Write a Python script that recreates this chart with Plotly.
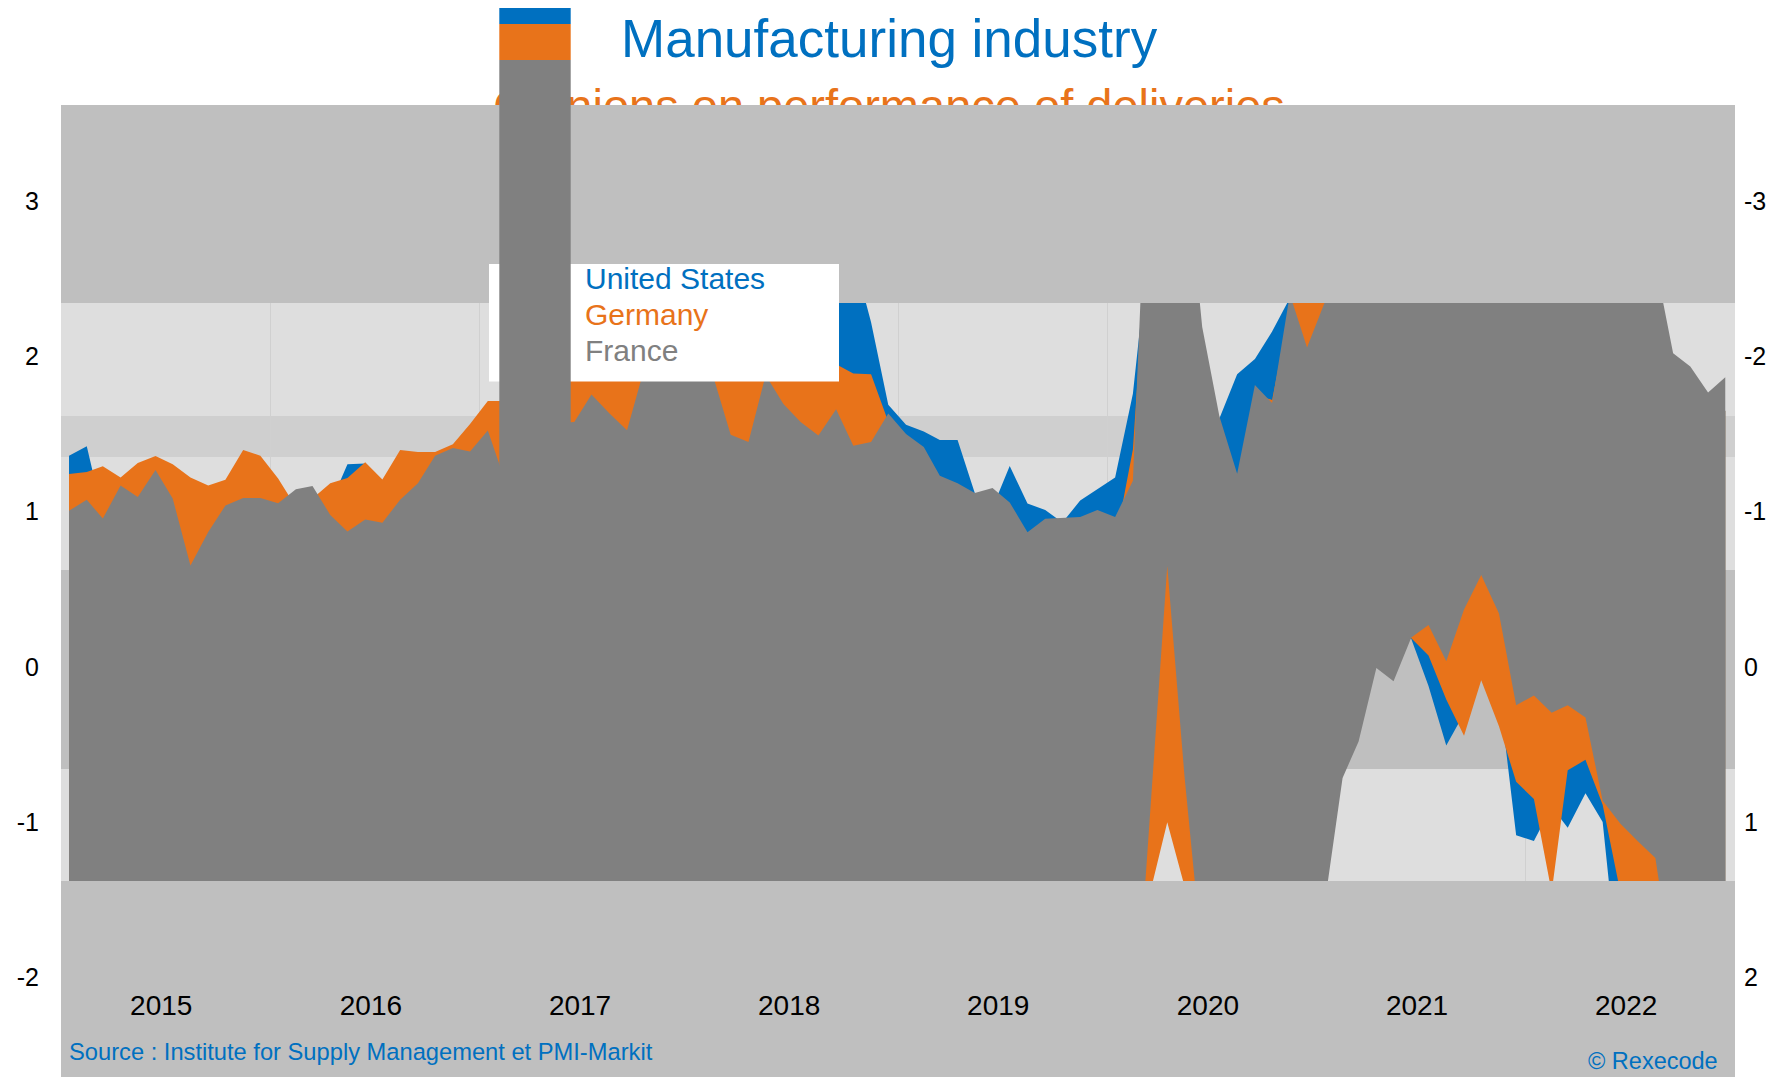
import plotly.graph_objects as go

# ---------------------------------------------------------------- data
# Monthly observations, January 2015 - December 2022 (stamped mid-month).
months = [f"{2015 + k // 12}-{k % 12 + 1:02d}-15" for k in range(96)]

# Each country is drawn as a band between a base line and a top line.
us_top = [
    1.361, 1.422, 0.98, 1.00, 1.05, 1.10, 1.05, 1.00, 0.95, 1.00, 1.05, 1.00,
    0.95, 0.95, 1.00, 1.05, 1.306, 1.31, 1.05, 1.15, 1.20, 1.25, 1.30, 1.40,
    1.50, 1.55, 1.60, 1.70, 1.75, 1.80, 1.90, 1.95, 1.90, 2.00, 2.10, 2.15,
    2.10, 2.05, 1.90, 1.85, 2.00, 2.10, 2.05, 2.20, 2.60, 2.65, 2.22, 1.688,
    1.56, 1.516, 1.462, 1.462, 1.12, 1.026, 1.294, 1.053, 1.011, 0.93, 1.072, 1.146,
    1.22, 1.76, 2.75, 3.00, 2.50, 1.90, 1.60, 1.885, 1.984, 2.16, 2.376, 2.00,
    3.0, 3.0, 3.0, 3.0, 3.0, 3.0, 3.0, 3.0, 3.0, 3.0, 3.0, 3.0,
    3.0, 3.0, 3.0, 3.0, 3.0, 3.0, 3.0, 2.30, 1.80, 1.70, 1.55, 1.65,
]
us_base = [-2.0] * 60 + [
    -2.0, -2.0, -1.30, -0.80, -1.30, -2.0, -2.0, -2.0, -2.0, -2.0, -2.0, -2.0,
    0.35, -0.414, -0.18, 0.293, 0.209, 0.18, -0.123, -0.505, -0.30, -0.05, -0.152, -1.084,
    -1.12, -0.90, -1.035, -0.813, -0.998, -2.10, -2.10, -2.10, -2.10, -2.10, -2.10, -2.10,
]

de_top = [
    1.242, 1.255, 1.292, 1.220, 1.314, 1.358, 1.306, 1.220, 1.168, 1.205, 1.398, 1.361,
    1.213, 1.03, 1.085, 1.183, 1.217, 1.319, 1.208, 1.398, 1.385, 1.385, 1.434, 1.565,
    1.713, 1.713, 1.75, 1.80, 1.85, 1.95, 2.05, 2.10, 2.00, 2.10, 2.20, 2.25,
    2.20, 2.15, 2.00, 1.95, 2.10, 2.20, 2.10, 2.00, 1.95, 1.89, 1.885, 1.58,
    1.35, 1.30, 1.10, 1.05, 1.00, 1.00, 0.95, 0.75, 0.80, 0.85, 0.85, 0.90,
    0.80, 1.40, 3.0, 3.0, 3.0, 1.80, 1.50, 1.20, 1.75, 1.72, 2.30, 3.0,
    3.0, 3.0, 3.0, 3.0, 3.0, 3.0, 3.0, 3.0, 3.0, 3.0, 3.0, 3.0,
    3.0, 3.0, 3.0, 3.0, 3.0, 3.0, 3.0, 2.30, 1.80, 1.70, 1.55, 1.65,
]
de_base = [-2.0] * 60 + [
    -2.0, -2.0, -1.47, -1.00, -1.41, -2.0, -2.0, -2.0, -2.0, -2.0, -2.0, -2.0,
    0.30, -0.464, -0.23, 0.243, 0.159, 0.185, 0.074, -0.209, -0.443, -0.086, -0.382, -0.739,
    -0.85, -1.45, -0.665, -0.598, -0.887, -1.43, -2.0, -2.0, -2.0, -2.0, -2.0, -2.0,
]

fr_top = [
    1.006, 1.077, 0.956, 1.168, 1.094, 1.269, 1.085, 0.653, 0.870, 1.040, 1.089, 1.089,
    1.055, 1.144, 1.166, 0.979, 0.872, 0.949, 0.929, 1.077, 1.183, 1.361, 1.410, 1.388,
    1.523, 1.19, 1.40, 1.50, 1.57, 1.578, 1.755, 1.634, 1.525, 1.92, 2.05, 2.10,
    2.00, 1.84, 1.496, 1.449, 1.88, 1.693, 1.577, 1.491, 1.659, 1.425, 1.449, 1.632,
    1.50, 1.417, 1.232, 1.183, 1.121, 1.153, 1.060, 0.868, 0.954, 0.961, 0.966, 1.011,
    0.966, 1.20, 3.74, 3.50, 3.35, 2.19, 1.614, 1.245, 1.816, 1.70, 2.40, 2.058,
    2.35, 3.0, 3.0, 3.0, 3.0, 3.0, 3.0, 3.0, 3.0, 3.0, 3.0, 3.0,
    3.0, 3.0, 3.0, 3.0, 3.0, 3.0, 3.0, 2.60, 2.021, 1.935, 1.767, 1.866,
]
fr_base = [-2.0] * 60 + [
    -2.0, -2.54, -0.99, 0.65, -0.70, -1.87, -2.0, -2.0, -2.0, -2.0, -2.0, -2.0,
    -1.52, -0.714, -0.48, -0.007, -0.091, 0.19, 0.271, 0.037, 0.37, 0.592, 0.345, -0.246,
    -0.184, -0.295, -0.246, -0.325, -0.862, -1.01, -1.12, -1.23, -1.98, -2.0, -2.0, -2.0,
]

series_names = ["United States", "Germany", "France"]
years = list(range(2015, 2023))
left_ticks = [3, 2, 1, 0, -1, -2]
right_ticks = [-3, -2, -1, 0, 1, 2]

# shaded horizontal zones (low, high)
zone_mid = (1.352, 1.616)
zone_dark = (-0.657, 0.625)

# ---------------------------------------------------------------- style
BLUE, ORANGE, GREY = "#0070c0", "#e8731a", "#808080"
LIGHT, MID, DARK = "#dedede", "#cfcfcf", "#bfbfbf"
FONT = "Arial, 'Liberation Sans', sans-serif"

W, H = 1770, 1077
PLOT_L, PLOT_R = 61, 1735
ZERO_PX, PX_PER_UNIT = 667.0, 155.3
FRAME_TOP = 105
VIEW_LO, VIEW_HI = -1.378, 2.344


def px(v):
    return ZERO_PX - v * PX_PER_UNIT


def val(p):
    return (ZERO_PX - p) / PX_PER_UNIT


def fy(p):
    return (H - p) / H


def fx(p):
    return (p - PLOT_L) / (PLOT_R - PLOT_L)


def tick_text(v):
    return str(v).replace("\u2212", "-")


fig = go.Figure()

for (base, top, colour) in [(us_base, us_top, BLUE),
                            (de_base, de_top, ORANGE),
                            (fr_base, fr_top, GREY)]:
    fig.add_trace(go.Scatter(x=months, y=base, mode="lines", line=dict(width=0),
                             hoverinfo="skip", showlegend=False))
    fig.add_trace(go.Scatter(x=months, y=top, mode="lines", line=dict(width=0),
                             fill="tonexty", fillcolor=colour,
                             hoverinfo="skip", showlegend=False))

# subtitle, sitting on the frame subplot
fig.add_trace(go.Scatter(
    x=[fx(889)], y=[val(110.7)], mode="text",
    text=["Opinions on performance of deliveries"],
    textposition="middle center",
    textfont=dict(size=47, color=ORANGE, family=FONT),
    xaxis="x2", yaxis="y2", cliponaxis=False,
    hoverinfo="skip", showlegend=False))
fig.add_trace(go.Scatter(x=[], y=[], xaxis="x2", yaxis="y3",
                         hoverinfo="skip", showlegend=False))

shapes = [
    # data window background and zones
    dict(type="rect", xref="x domain", yref="y domain", x0=0, x1=1, y0=0, y1=1,
         fillcolor=LIGHT, line_width=0, layer="below"),
    dict(type="rect", xref="x domain", yref="y", x0=0, x1=1,
         y0=zone_mid[0], y1=zone_mid[1], fillcolor=MID, line_width=0, layer="below"),
    dict(type="rect", xref="x domain", yref="y", x0=0, x1=1,
         y0=zone_dark[0], y1=zone_dark[1], fillcolor=DARK, line_width=0, layer="below"),
    # frame above and below the data window
    dict(type="rect", xref="paper", yref="paper", x0=0, x1=1,
         y0=0, y1=fy(px(VIEW_LO)), fillcolor=DARK, line_width=0, layer="below"),
    dict(type="rect", xref="paper", yref="paper", x0=0, x1=1,
         y0=fy(px(VIEW_HI)), y1=fy(FRAME_TOP), fillcolor=DARK, line_width=0, layer="above"),
    # key box
    dict(type="rect", xref="paper", yref="paper", x0=fx(489), x1=fx(839),
         y0=fy(381.5), y1=fy(264), fillcolor="white", line_width=0, layer="above"),
    dict(type="rect", xref="paper", yref="paper", x0=fx(499.3), x1=fx(570.7),
         y0=fy(24), y1=fy(8), fillcolor=BLUE, line_width=0, layer="above"),
    dict(type="rect", xref="paper", yref="paper", x0=fx(499.3), x1=fx(570.7),
         y0=fy(60), y1=fy(24), fillcolor=ORANGE, line_width=0, layer="above"),
    dict(type="rect", xref="paper", yref="paper", x0=fx(499.3), x1=fx(570.7),
         y0=fy(617), y1=fy(60), fillcolor=GREY, line_width=0, layer="above"),
]

annotations = [
    dict(text="Manufacturing industry", x=fx(889), y=fy(38.5), xref="paper", yref="paper",
         xanchor="center", yanchor="middle", showarrow=False,
         font=dict(size=53, color=BLUE, family=FONT)),
    dict(text="Source : Institute for Supply Management et PMI-Markit",
         x=fx(67), y=fy(1052), xref="paper", yref="paper",
         xanchor="left", yanchor="middle", showarrow=False,
         font=dict(size=23.7, color=BLUE, family=FONT)),
    dict(text="© Rexecode", x=fx(1720), y=fy(1061), xref="paper", yref="paper",
         xanchor="right", yanchor="middle", showarrow=False,
         font=dict(size=23.5, color=BLUE, family=FONT)),
]
for name, colour, yc in zip(series_names, [BLUE, ORANGE, GREY], [278.8, 314.5, 350.5]):
    annotations.append(dict(text=name, x=fx(583), y=fy(yc), xref="paper", yref="paper",
                            xanchor="left", yanchor="middle", showarrow=False,
                            font=dict(size=30, color=colour, family=FONT)))

fig.update_layout(
    template="none",
    width=W, height=H,
    margin=dict(l=PLOT_L, r=W - PLOT_R, t=0, b=0, pad=0),
    paper_bgcolor="white", plot_bgcolor="rgba(0,0,0,0)",
    font=dict(family=FONT, color="black"),
    showlegend=False,
    shapes=shapes, annotations=annotations,
    xaxis=dict(domain=[0, 1], anchor="y", type="date",
               range=["2015-01-01", "2023-01-01"],
               tickvals=[f"{y}-06-25" for y in years],
               ticktext=[str(y) for y in years],
               ticks="", showline=False, zeroline=False, showgrid=False,
               minor=dict(tick0="2015-01-01", dtick="M12", showgrid=True,
                          gridcolor="#d0d0d0", gridwidth=1, ticks=""),
               tickfont=dict(size=28, color="black"), ticklabelstandoff=105,
               automargin=False, fixedrange=True),
    yaxis=dict(domain=[fy(px(VIEW_LO)), fy(px(VIEW_HI))], anchor="x",
               range=[VIEW_LO, VIEW_HI], visible=False, fixedrange=True),
    xaxis2=dict(domain=[0, 1], anchor="y2", range=[0, 1], visible=False, fixedrange=True),
    yaxis2=dict(domain=[0, fy(FRAME_TOP)], anchor="x2",
                range=[val(H), val(FRAME_TOP)], tickvals=left_ticks,
                ticktext=[tick_text(v) for v in left_ticks],
                ticks="", showgrid=False, zeroline=False, showline=False,
                tickfont=dict(size=25, color="black"), ticklabelstandoff=21,
                automargin=False, fixedrange=True),
    yaxis3=dict(overlaying="y2", anchor="x2", side="right",
                range=[-val(H), -val(FRAME_TOP)], tickvals=right_ticks,
                ticktext=[tick_text(v) for v in right_ticks],
                ticks="", showgrid=False, zeroline=False, showline=False,
                tickfont=dict(size=25, color="black"), ticklabelstandoff=8,
                automargin=False, fixedrange=True),
)

fig.write_html("out.html")
